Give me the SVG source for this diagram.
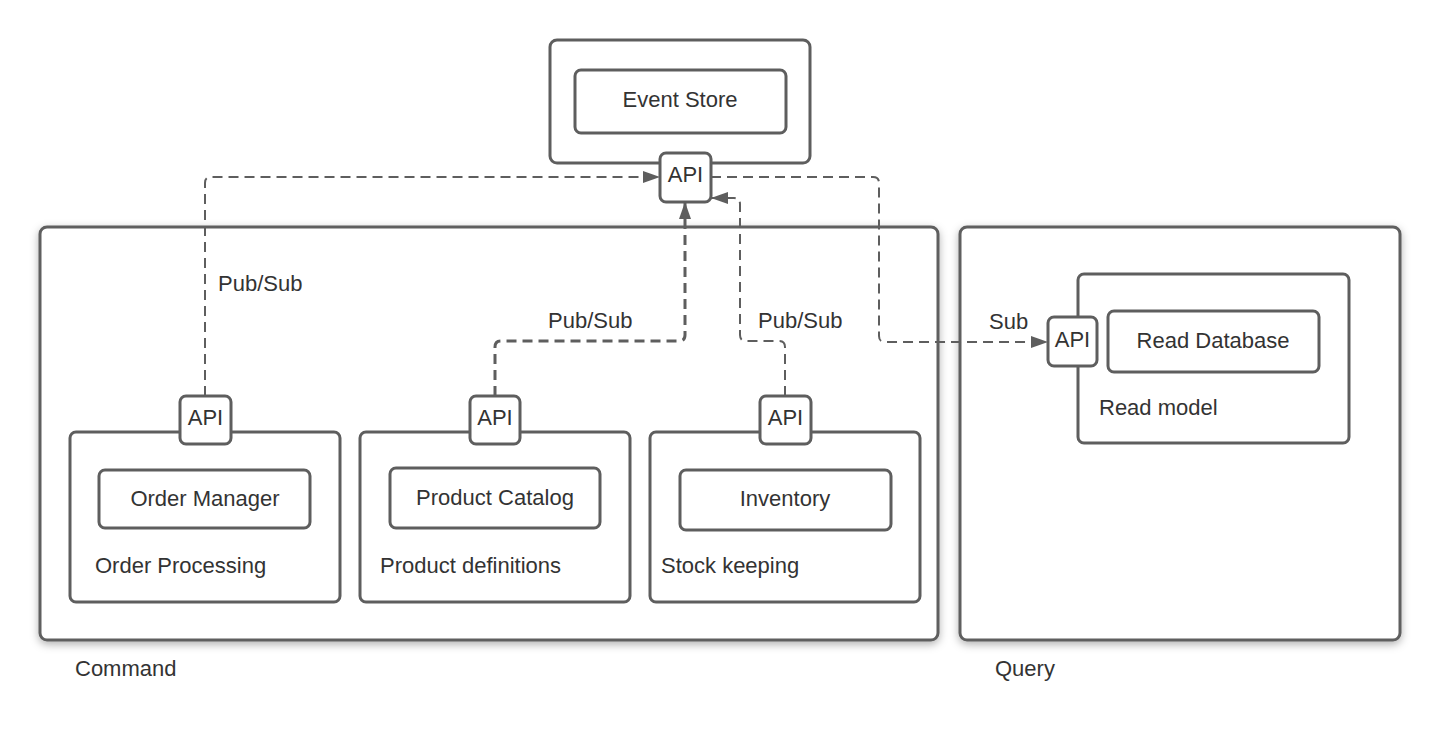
<svg xmlns="http://www.w3.org/2000/svg" width="1440" height="741" viewBox="0 0 1440 741">
<defs>
<style>
.box{fill:#fff;stroke:#5e5e5e;stroke-width:3}
.t{font-family:"Liberation Sans",Arial,sans-serif;font-size:22px;fill:#333}
.c{text-anchor:middle;dominant-baseline:central}
.con{fill:none;stroke:#5e5e5e;stroke-width:2;stroke-dasharray:10 6}
</style>
<filter id="sh" x="-5%" y="-5%" width="110%" height="115%">
<feDropShadow dx="0" dy="3" stdDeviation="4" flood-color="#000" flood-opacity="0.3"/>
</filter>
<marker id="ah" viewBox="0 0 17 12" refX="17" refY="6" markerWidth="17" markerHeight="12" markerUnits="userSpaceOnUse" orient="auto">
<path d="M0,0 L17,6 L0,12 z" fill="#5e5e5e"/>
</marker>
</defs>
<rect width="1440" height="741" fill="#fff"/>

<g id="command">
<rect class="box" x="40" y="227" width="898" height="413" rx="7" filter="url(#sh)"/>
<text class="t" x="75" y="676">Command</text>
</g>
<g id="query">
<rect class="box" x="960" y="227" width="440" height="413" rx="7" filter="url(#sh)"/>
<text class="t" x="995" y="676">Query</text>
</g>

<g id="event-store">
<rect class="box" x="550" y="40" width="260" height="123" rx="7"/>
<rect class="box" x="575" y="70" width="211" height="63" rx="6"/>
<text class="t c" x="680" y="99">Event Store</text>
<rect class="box" x="660" y="153" width="51" height="49" rx="6"/>
<text class="t c" x="685.5" y="174">API</text>
</g>

<g id="order-processing">
<rect class="box" x="70" y="432" width="270" height="170" rx="6"/>
<rect class="box" x="99" y="470" width="211" height="58" rx="6"/>
<text class="t c" x="205" y="498">Order Manager</text>
<text class="t" x="95" y="573">Order Processing</text>
<rect class="box" x="180" y="396" width="51" height="48" rx="6"/>
<text class="t c" x="205.5" y="417">API</text>
</g>

<g id="product-definitions">
<rect class="box" x="360" y="432" width="270" height="170" rx="6"/>
<rect class="box" x="390" y="468" width="210" height="60" rx="6"/>
<text class="t c" x="495" y="497">Product Catalog</text>
<text class="t" x="380" y="573">Product definitions</text>
<rect class="box" x="470" y="396" width="50" height="48" rx="6"/>
<text class="t c" x="495" y="417">API</text>
</g>

<g id="stock-keeping">
<rect class="box" x="650" y="432" width="270" height="170" rx="6"/>
<rect class="box" x="680" y="470" width="211" height="60" rx="6"/>
<text class="t c" x="785" y="498">Inventory</text>
<text class="t" x="661" y="573">Stock keeping</text>
<rect class="box" x="760" y="396" width="51" height="48" rx="6"/>
<text class="t c" x="785.5" y="417">API</text>
</g>

<g id="read-model">
<rect class="box" x="1078" y="274" width="271" height="169" rx="6"/>
<rect class="box" x="1108" y="311" width="211" height="61" rx="6"/>
<text class="t c" x="1213" y="340">Read Database</text>
<text class="t" x="1099" y="415">Read model</text>
<rect class="box" x="1048" y="317" width="49" height="49" rx="6"/>
<text class="t c" x="1072.5" y="339">API</text>
</g>

<g id="connectors">
<path class="con" d="M205,396 V183 Q205,177 211,177 H660" marker-end="url(#ah)"/>
<path class="con" style="stroke-width:3" d="M495,396 V347 Q495,341 501,341 H679 Q685,341 685,335 V202" marker-end="url(#ah)"/>
<path class="con" d="M785,396 V347 Q785,341 779,341 H746 Q740,341 740,335 V204 Q740,198 734,198 H711" marker-end="url(#ah)"/>
<path class="con" d="M711,177 H873 Q879,177 879,183 V336 Q879,342 885,342 H1048" marker-end="url(#ah)"/>
<text class="t" x="218" y="291">Pub/Sub</text>
<text class="t" x="548" y="328">Pub/Sub</text>
<text class="t" x="758" y="328">Pub/Sub</text>
<text class="t" x="989" y="329">Sub</text>
</g>
</svg>
